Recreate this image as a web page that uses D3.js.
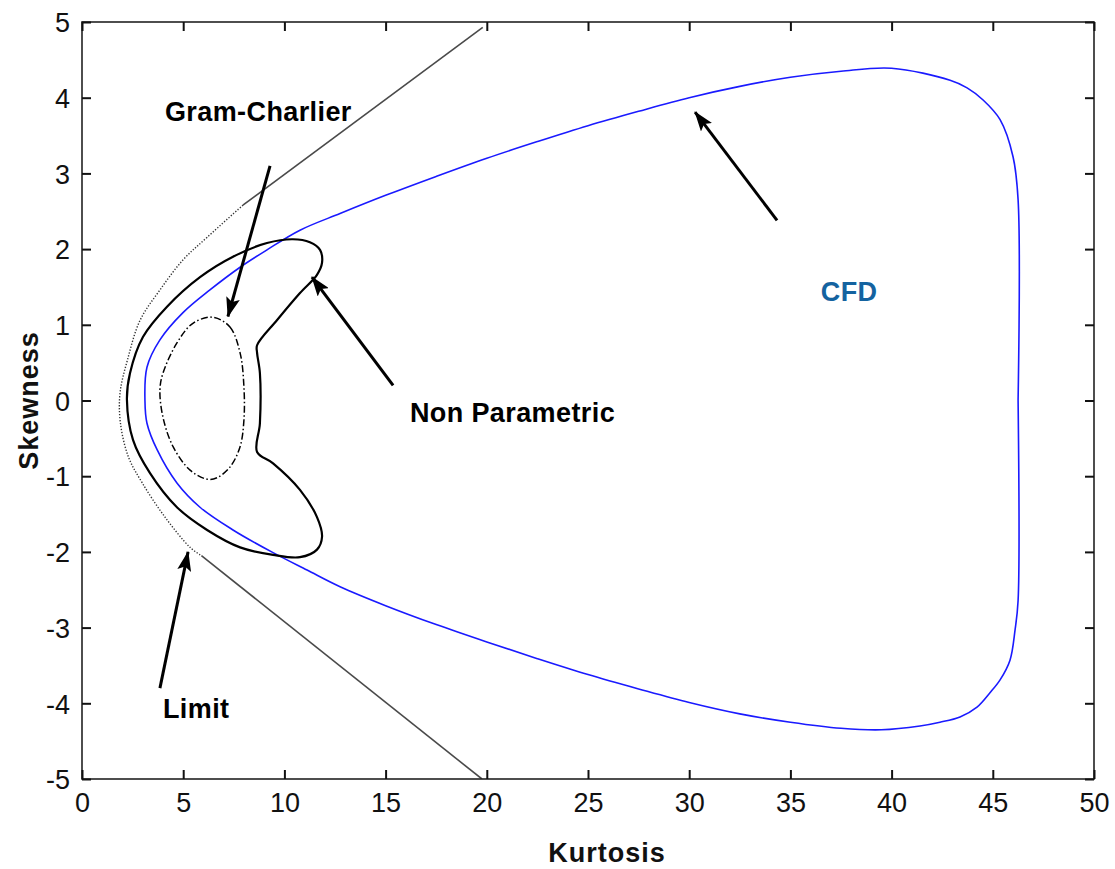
<!DOCTYPE html>
<html>
<head>
<meta charset="utf-8">
<script src="https://cdn.jsdelivr.net/npm/d3@7"></script>
<style>
  html, body { margin: 0; padding: 0; background: #fff; }
  svg { display: block; }
</style>
</head>
<body>
<svg id="chart" width="1115" height="869"></svg>
<script>
// ---------- data (Kurtosis, Skewness) ----------
const xTicks = [0, 5, 10, 15, 20, 25, 30, 35, 40, 45, 50];
const yTicks = [-5, -4, -3, -2, -1, 0, 1, 2, 3, 4, 5];

// Limit: straight upper/lower branches and dotted curved part
const limitUpperLine = [[19.8, 4.93], [7.95, 2.58]];
const limitCurve = [
  [7.95, 2.58], [6.2, 2.16], [5.0, 1.86], [3.85, 1.46], [2.87, 1.06],
  [2.25, 0.54], [1.88, 0.10], [1.9, -0.30], [2.3, -0.75], [2.98, -1.09],
  [4.1, -1.54], [5.34, -1.94], [5.9, -2.05]
];
const limitLowerLine = [[5.9, -2.05], [19.76, -5.0]];

// CFD boundary (blue)
const cfdK = [
  46.25, 46.25, 46.0, 45.36, 44.52, 43.73, 42.89, 40.0, 37.5, 35.0, 32.5, 30.0, 27.5, 25.0,
  22.5, 20.0, 17.5, 15.0, 12.75, 10.77, 9.14, 7.81, 6.32, 4.99, 3.85, 3.21, 3.11,
  3.21, 3.71, 4.69, 5.83, 7.46, 9.44, 11.12, 12.75, 15.0, 17.5, 20.0, 22.5, 25.0, 27.5,
  30.0, 32.5, 35.0, 37.5, 39.5, 41.4, 42.39, 43.38, 44.22, 44.86, 45.36, 45.85, 46.1, 46.25, 46.25
];
const cfdS = [
  0.0, 2.65, 3.22, 3.71, 3.97, 4.13, 4.23, 4.39, 4.35, 4.27, 4.15, 4.0, 3.82, 3.63,
  3.42, 3.20, 2.96, 2.71, 2.47, 2.25, 1.99, 1.76, 1.46, 1.16, 0.80, 0.44, 0.0,
  -0.30, -0.65, -1.09, -1.41, -1.71, -2.01, -2.24, -2.46, -2.71, -2.96, -3.19, -3.41, -3.62, -3.81,
  -3.99, -4.14, -4.25, -4.33, -4.35, -4.30, -4.25, -4.18, -4.05, -3.86, -3.69, -3.43, -3.03, -2.64, 0.0
];

// Non Parametric (solid black, closed)
const npK = [8.65, 9.63, 10.77, 11.61, 11.86, 11.76, 11.26, 10.42, 9.14, 7.46, 5.83, 4.20,
  3.01, 2.37, 2.22, 2.52, 3.36, 4.69, 6.18, 7.81, 9.44, 10.77, 11.61, 11.86, 11.61,
  10.77, 9.44, 8.65, 8.79, 8.79, 8.65];
const npS = [0.73, 1.06, 1.42, 1.66, 1.82, 1.99, 2.09, 2.13, 2.08, 1.90, 1.63, 1.24,
  0.84, 0.36, 0.01, -0.52, -0.96, -1.41, -1.71, -1.94, -2.04, -2.07, -1.97, -1.80, -1.54,
  -1.18, -0.83, -0.68, -0.30, 0.36, 0.63];

// Gram-Charlier (dash-dot, closed)
const gcK = [6.47, 7.31, 7.81, 8.0, 8.0, 7.81, 7.31, 6.67, 6.18, 5.34, 4.50, 4.0, 3.85, 4.0, 4.69, 5.48];
const gcS = [1.10, 0.97, 0.63, 0.18, -0.26, -0.61, -0.88, -1.02, -1.04, -0.92, -0.61, -0.22, 0.14, 0.36, 0.76, 1.02];

// Annotations: label, label anchor (k,s), arrow tail, arrow tip
const annLabels = ["Gram-Charlier", "Non Parametric", "CFD", "Limit"];
const annText = [[4.1, 3.69], [16.2, -0.29], [36.5, 1.32], [4.0, -4.19]];
const annTail = [[9.29, 3.10], [15.37, 0.20], [34.34, 2.38], [3.85, -3.80]];
const annTip = [[7.21, 1.11], [11.36, 1.63], [30.29, 3.81], [5.24, -2.0]];
const annColor = ["#000", "#000", "#1463a0", "#000"];

// ---------- drawing ----------
const svg = d3.select("#chart");
const L = 82, R = 1094, T = 22, B = 779;
const x = d3.scaleLinear().domain([0, 50]).range([L, R]);
const y = d3.scaleLinear().domain([-5, 5]).range([B, T]);

const defs = svg.append("defs");
defs.append("clipPath").attr("id", "clip")
  .append("rect").attr("x", L).attr("y", T).attr("width", R - L).attr("height", B - T);
defs.append("marker").attr("id", "head")
  .attr("markerUnits", "userSpaceOnUse")
  .attr("viewBox", "0 0 20 14").attr("refX", 19).attr("refY", 7)
  .attr("markerWidth", 20).attr("markerHeight", 14).attr("orient", "auto")
  .append("path").attr("d", "M0,0 L20,7 L0,14 L4,7 Z").attr("fill", "#000");

const g = svg.append("g").attr("clip-path", "url(#clip)");

const line = d3.line().x(d => x(d[0])).y(d => y(d[1]));
const smooth = d3.line().x(d => x(d[0])).y(d => y(d[1])).curve(d3.curveCatmullRom.alpha(0.5));
const closed = d3.line().x(d => x(d[0])).y(d => y(d[1])).curve(d3.curveCatmullRomClosed.alpha(0.5));

// Limit
g.append("path").attr("d", line(limitUpperLine)).attr("fill", "none")
  .attr("stroke", "#4a4a4a").attr("stroke-width", 1.6);
g.append("path").attr("d", line(limitLowerLine)).attr("fill", "none")
  .attr("stroke", "#4a4a4a").attr("stroke-width", 1.6);
g.append("path").attr("d", smooth(limitCurve)).attr("fill", "none")
  .attr("stroke", "#333").attr("stroke-width", 1.4).attr("stroke-dasharray", "1.3,1.7");

// CFD
const cfd = cfdK.map((k, i) => [k, cfdS[i]]);
g.append("path").attr("d", smooth(cfd)).attr("fill", "none")
  .attr("stroke", "#1a1aff").attr("stroke-width", 1.6);

// Non Parametric
const np = npK.map((k, i) => [k, npS[i]]);
g.append("path").attr("d", closed(np)).attr("fill", "none")
  .attr("stroke", "#000").attr("stroke-width", 2.2);

// Gram-Charlier
const gc = gcK.map((k, i) => [k, gcS[i]]);
g.append("path").attr("d", closed(gc)).attr("fill", "none")
  .attr("stroke", "#000").attr("stroke-width", 1.5).attr("stroke-dasharray", "7,2.5,1.5,2.5");

// Arrows
annTail.forEach((t, i) => {
  svg.append("line")
    .attr("x1", x(t[0])).attr("y1", y(t[1]))
    .attr("x2", x(annTip[i][0])).attr("y2", y(annTip[i][1]))
    .attr("stroke", "#000").attr("stroke-width", 3)
    .attr("marker-end", "url(#head)");
});

const font = "Liberation Sans, Arial, sans-serif";

// Labels
annLabels.forEach((lab, i) => {
  svg.append("text").attr("x", x(annText[i][0])).attr("y", y(annText[i][1]))
    .attr("font-family", font)
    .attr("font-weight", "bold").attr("font-size", 27)
    .attr("letter-spacing", 0.4)
    .attr("fill", annColor[i]).text(lab);
});

// Frame
svg.append("rect").attr("x", L).attr("y", T).attr("width", R - L).attr("height", B - T)
  .attr("fill", "none").attr("stroke", "#222").attr("stroke-width", 1.6);

// Axes with inward ticks on all sides
const tickLen = 9;
const fmt = d => String(d);
const axB = svg.append("g").attr("transform", `translate(0,${B})`)
  .call(d3.axisBottom(x).tickValues(xTicks).tickSize(-tickLen).tickPadding(14).tickFormat(fmt));
const axT = svg.append("g").attr("transform", `translate(0,${T})`)
  .call(d3.axisTop(x).tickValues(xTicks).tickSize(-tickLen).tickFormat(""));
const axL = svg.append("g").attr("transform", `translate(${L},0)`)
  .call(d3.axisLeft(y).tickValues(yTicks).tickSize(-tickLen).tickPadding(12).tickFormat(fmt));
const axR = svg.append("g").attr("transform", `translate(${R},0)`)
  .call(d3.axisRight(y).tickValues(yTicks).tickSize(-tickLen).tickFormat(""));
[axB, axT, axL, axR].forEach(a => {
  a.select(".domain").remove();
  a.selectAll(".tick line").attr("stroke", "#111").attr("stroke-width", 2);
  a.selectAll(".tick text").attr("font-family", font).attr("font-size", 27).attr("fill", "#111");
});
axL.selectAll(".tick text").attr("dy", "0.36em");

// Axis titles
svg.append("text").attr("x", 607).attr("y", 862)
  .attr("text-anchor", "middle").attr("font-family", font).attr("font-weight", "bold")
  .attr("font-size", 27).attr("letter-spacing", 1).attr("fill", "#111").text("Kurtosis");
svg.append("text").attr("transform", `translate(38,${y(0)}) rotate(-90)`)
  .attr("text-anchor", "middle").attr("font-family", font).attr("font-weight", "bold")
  .attr("font-size", 27).attr("letter-spacing", 1).attr("fill", "#111").text("Skewness");
</script>
</body>
</html>
